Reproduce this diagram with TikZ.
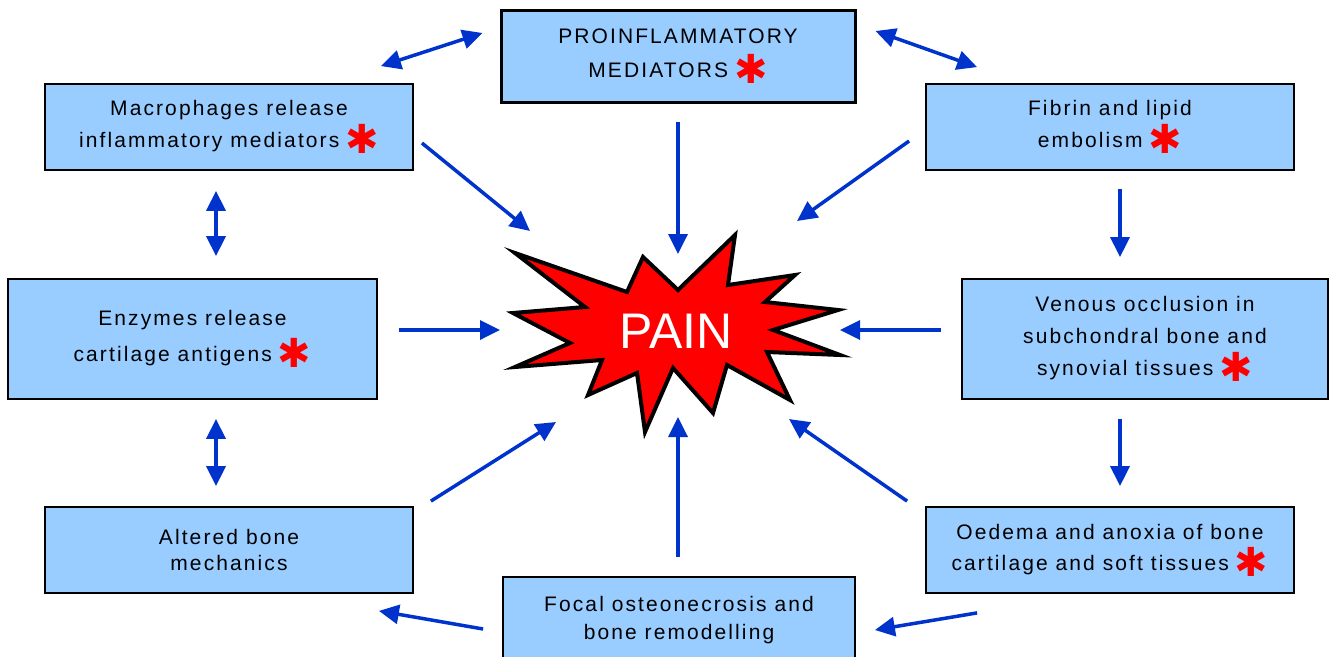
\documentclass[tikz,border=0pt]{standalone}
\usepackage{fontspec}
\setmainfont{Liberation Sans}[LetterSpace=10]
\newfontfamily\painfont{Liberation Sans}
\newfontfamily\starfont{DejaVu Sans}
\usetikzlibrary{arrows.meta,calc}

\definecolor{boxblue}{RGB}{153,204,255}
\definecolor{arrowblue}{RGB}{0,51,204}
\newcommand{\redast}{\hspace{6pt}{\starfont\bfseries\color{red}\fontsize{40}{40}\selectfont\raisebox{-6pt}{✱}}}

\tikzset{
    box/.style={draw, fill=boxblue, line width=1.8pt, minimum width=368pt,
        minimum height=86pt, inner sep=0pt, align=center,
        font=\fontsize{21}{32}\selectfont},
    arrow/.style={-{Triangle[length=20pt,width=19pt]}, draw=arrowblue, line width=3.5pt},
    both/.style={arrow, {Triangle[length=20pt,width=19pt]}-{Triangle[length=20pt,width=19pt]}}
}

\begin{document}
\begin{tikzpicture}[x=1pt,y=-1pt]
    \useasboundingbox (0,0) rectangle (1330,656);
    \clip (0,0) rectangle (1330,656);

    % boxes
    \node[box, minimum width=354pt, minimum height=92pt, line width=3pt,
        font=\fontsize{21}{34}\selectfont] (pro) at (678,56) {PROINFLAMMATORY\\MEDIATORS\redast};
    \node[box] (macro) at (229,127) {Macrophages release\\inflammatory mediators\redast};
    \node[box] (fibrin) at (1110,127) {Fibrin and lipid\\embolism\redast};
    \node[box, minimum width=369pt, minimum height=120pt, font=\fontsize{21}{36}\selectfont]
        (enzymes) at (192.5,339) {Enzymes release\\cartilage antigens\redast};
    \node[box, minimum width=366pt, minimum height=120pt] (venous) at (1145,339) {Venous occlusion in\\subchondral bone and\\synovial tissues\redast};
    \node[box, font=\fontsize{21}{26}\selectfont] (altered) at (229,550) {Altered bone\\mechanics};
    \node[box, font=\fontsize{21}{31}\selectfont] (oedema) at (1110,550) {Oedema and anoxia of bone\\cartilage and soft tissues\redast};
    \node[box, minimum width=352pt, font=\fontsize{21}{28}\selectfont] (focal) at (679,620) {Focal osteonecrosis and\\bone remodelling};

    % the burst
    \draw[fill=red, line width=4pt] (515,253) -- (627,292) -- (643,257) -- (678,290)
        -- (735,235) -- (728,285) -- (795,275) -- (765,302) -- (838,310) -- (773,330)
        -- (840,355) -- (767,352) -- (790,400) -- (727,365) -- (713,413) -- (673,368)
        -- (645,432) -- (637,373) -- (588,395) -- (602,360) -- (515,367) -- (570,343)
        -- (513,313) -- (585,307) -- cycle;
    \node[text=white, font=\painfont\fontsize{50}{50}\selectfont] (pain) at (676,331) {PAIN};

    % arrows
    \draw[both] ($(macro.north east)+(-33,-17)$) -- ($(pro.west)+(-17,-23)$);
    \draw[both] ($(pro.east)+(19,-25)$) -- ($(fibrin.north west)+(52,-16)$);
    \draw[arrow] ($(pro.south)+(0,18)$) -- ($(pain)+(2,-77)$);
    \draw[arrow] ($(macro.east)+(8,16)$) -- ($(pain)+(-146,-100)$);
    \draw[arrow] ($(fibrin.west)+(-16,14)$) -- ($(pain)+(121,-110)$);
    \draw[arrow] ($(fibrin.south)+(10,18)$) -- ($(venous.north)+(-25,-21)$);
    \draw[arrow] ($(enzymes.east)+(21,-9)$) -- ($(pain)+(-176,-1)$);
    \draw[arrow] ($(venous.west)+(-20,-9)$) -- ($(pain)+(164,-1)$);
    \draw[arrow] ($(venous.south)+(-25,19)$) -- ($(oedema.north)+(10,-20)$);
    \draw[both] ($(macro.south)+(-13,20)$) -- ($(enzymes.north)+(23.5,-22)$);
    \draw[both] ($(enzymes.south)+(23.5,19)$) -- ($(altered.north)+(-13,-20)$);
    \draw[arrow] ($(altered.north east)+(17,-5)$) -- ($(pain)+(-120,91)$);
    \draw[arrow] ($(focal.north)+(-1,-19)$) -- ($(pain)+(2,86)$);
    \draw[arrow] ($(oedema.north west)+(-18,-5)$) -- ($(pain)+(113,88)$);
    \draw[arrow] ($(focal.west)+(-19,9)$) -- ($(altered.south east)+(-35,17)$);
    \draw[arrow] ($(oedema.south west)+(52,19)$) -- ($(focal.east)+(19,10)$);
\end{tikzpicture}
\end{document}
